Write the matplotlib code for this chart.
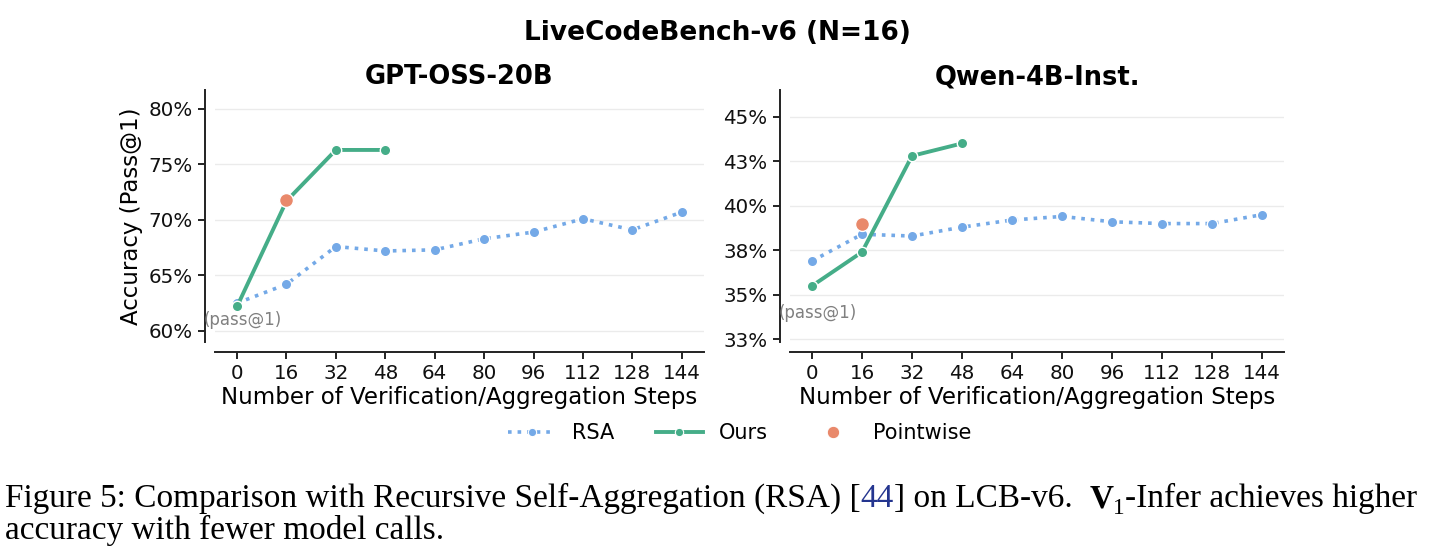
import matplotlib
matplotlib.use("Agg")
import matplotlib.pyplot as plt
from matplotlib.lines import Line2D

# data
steps = [0, 16, 32, 48, 64, 80, 96, 112, 128, 144]
ours_steps = [0, 16, 32, 48]

gpt_rsa = [62.5, 64.2, 67.6, 67.2, 67.3, 68.3, 68.9, 70.1, 69.1, 70.7]
gpt_ours = [62.2, 71.7, 76.3, 76.3]
gpt_point = [71.8]

qwen_rsa = [36.9, 38.4, 38.3, 38.8, 39.2, 39.4, 39.1, 39.0, 39.0, 39.5]
qwen_ours = [35.5, 37.4, 42.8, 43.5]
qwen_point = [39.0]

gpt_yticks = [60, 65, 70, 75, 80]
gpt_ylabels = ["60%", "65%", "70%", "75%", "80%"]
qwen_yticks = [32.5, 35, 37.5, 40, 42.5, 45]
qwen_ylabels = ["33%", "35%", "38%", "40%", "43%", "45%"]

BLUE = "#74a9e7"
GREEN = "#45ad88"
ORANGE = "#e9896b"
W, H = 1435, 558

plt.rcParams['font.family'] = ['DejaVu Sans']
fig = plt.figure(figsize=(W / 100, H / 100), dpi=100)

ax1 = fig.add_axes([214.8 / W, 1 - 342 / H, 489.2 / W, 252 / H])
ax2 = fig.add_axes([789.5 / W, 1 - 342 / H, 495 / W, 252 / H])

panels = [
    (ax1, "GPT-OSS-20B", gpt_rsa, gpt_ours, gpt_point, gpt_yticks, gpt_ylabels, (59.0, 81.7), 61.0),
    (ax2, "Qwen-4B-Inst.", qwen_rsa, qwen_ours, qwen_point, qwen_yticks, qwen_ylabels, (32.35, 46.5), 34.0),
]

for ax, title, rsa, ours, point, yt, yl, ylim, pass_y in panels:
    ax.plot(steps, rsa, ls=":", lw=2.6, color=BLUE, marker="o", ms=7.5,
            mec="white", mew=1.0, zorder=3)
    ax.plot(ours_steps, ours, ls="-", lw=2.8, color=GREEN, marker="o", ms=7.5,
            mec="white", mew=1.0, zorder=4)
    ax.plot([16], point, ls="none", marker="o", ms=10, color=ORANGE,
            mec="white", mew=1.0, zorder=5)
    ax.annotate("(pass@1)", (0, pass_y), xytext=(4, 0), textcoords="offset points",
                ha="center", va="center", fontsize=12, color="#808080", zorder=6)

    ax.set_xlim(-7.2, 151.2)
    ax.set_ylim(*ylim)
    ax.set_xticks(steps)
    ax.set_xticklabels([str(s) for s in steps])
    ax.set_yticks(yt)
    ax.set_yticklabels(yl)
    ax.tick_params(labelsize=14.3, length=5, width=1.3, pad=4, colors="#111111")
    ax.yaxis.grid(True, color="#ebebeb", lw=1.0)
    ax.set_axisbelow(True)
    for s in ["top", "right"]:
        ax.spines[s].set_visible(False)
    for s in ["left", "bottom"]:
        ax.spines[s].set_position(("outward", 7))
        ax.spines[s].set_linewidth(1.4)
        ax.spines[s].set_color("#222222")
    ax.set_xlabel("Number of Verification/Aggregation Steps", fontsize=16.5, labelpad=2)
    ax.set_title(title, fontsize=18.5, fontweight="bold", pad=4)

ax1.set_ylabel("Accuracy (Pass@1)", fontsize=16.5, labelpad=4)

fig.suptitle("LiveCodeBench-v6 (N=16)", fontsize=19, fontweight="bold",
             x=717 / W, y=1 - 33 / H, va="center")

handles = [
    Line2D([], [], ls=":", lw=2.6, color=BLUE, marker="o", ms=6, mec="white", mew=0.8),
    Line2D([], [], ls="-", lw=2.8, color=GREEN, marker="o", ms=6, mec="white", mew=0.8),
    Line2D([], [], ls="none", color=ORANGE, marker="o", ms=9, mec="white", mew=0.8),
]
fig.legend(handles, ["RSA", "Ours", "Pointwise"], loc="center",
           bbox_to_anchor=(740 / W, 1 - 433 / H), ncol=3, frameon=False,
           fontsize=15, handlelength=2.25, handletextpad=0.8, columnspacing=2.0)

# caption below the figure, laid out piece by piece
renderer = fig.canvas.get_renderer()
serif = "Liberation Serif"


def draw_runs(runs, x_px, y_px, size):
    x = x_px
    made = []
    for s, kw in runs:
        fs = size * kw.get("scale", 1.0)
        dy = kw.get("dy", 0.0) * size
        t = fig.text(x / W, 1 - (y_px + dy) / H, s, ha="left", va="baseline",
                     fontsize=fs, family=serif, color=kw.get("color", "black"),
                     fontweight=kw.get("weight", "normal"))
        x += t.get_window_extent(renderer=renderer).width
        made.append(t)
    return x, made


line1 = [
    ("Figure 5: Comparison with Recursive Self-Aggregation (RSA) [", {}),
    ("44", {"color": "#24358f"}),
    ("] on LCB-v6.  ", {}),
    ("V", {"weight": "bold"}),
    ("1", {"scale": 0.7, "dy": 0.3}),
    ("-Infer achieves higher", {}),
]
line2 = [("accuracy with fewer model calls.", {})]

# fit the first caption line to the width used in the reference
trial = 20.0
end, tmp = draw_runs(line1, 5, 507, trial)
for t in tmp:
    t.remove()
cap_size = trial * (1417 - 5) / (end - 5)
draw_runs(line1, 5, 507, cap_size)
draw_runs(line2, 5, 539, cap_size)

fig.savefig("out.png", dpi=100)
